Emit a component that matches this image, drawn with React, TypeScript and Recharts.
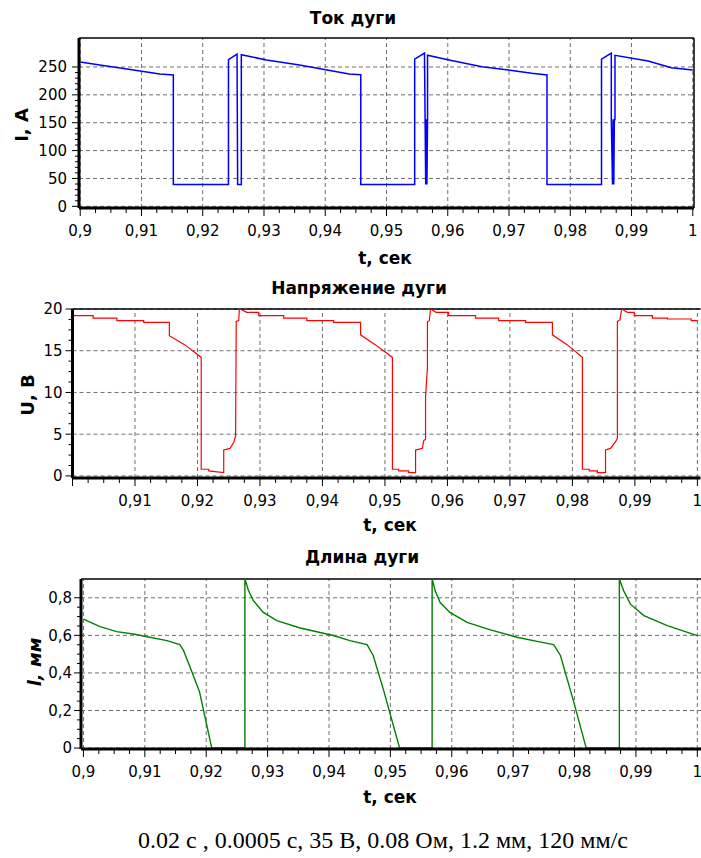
import React from 'react';
import { LineChart, Line, XAxis, YAxis, ReferenceLine } from 'recharts';

// Ток дуги, A
const currentT = [
  0.9, 0.9032, 0.9087, 0.913, 0.9152, 0.9152, 0.9242, 0.9242, 0.9256, 0.9257, 0.9263, 0.9263,
  0.9304, 0.9358, 0.9412, 0.9439, 0.9458, 0.9458, 0.9546, 0.9546, 0.9562, 0.9563, 0.9564, 0.9565,
  0.9566, 0.9567, 0.9567, 0.9602, 0.9656, 0.9699, 0.9737, 0.9762, 0.9762, 0.9851, 0.9851, 0.9867,
  0.9867, 0.9869, 0.987, 0.9871, 0.9872, 0.9873, 0.9873, 0.9927, 0.9965, 1.0,
];
const currentI = [
  259, 253.6, 244.6, 237.4, 235.6, 39, 39, 263, 273, 39, 39, 272,
  262.6, 253.6, 242.8, 237.4, 236, 39, 39, 264, 275, 156, 39, 156,
  39, 156, 271, 262.6, 250.6, 244.6, 238.6, 235.6, 39, 39, 264, 275,
  156, 39, 156, 39, 156, 156, 271, 260.8, 248.8, 244.6,
];

// Напряжение дуги, В
const voltageT = [
  0.9, 0.9003, 0.9033, 0.9033, 0.9071, 0.9071, 0.9114, 0.9114, 0.9155, 0.9155, 0.918, 0.9206,
  0.9206, 0.9218, 0.9218, 0.9242, 0.9242, 0.9252, 0.9258, 0.9261, 0.9262, 0.9266, 0.9267, 0.9268,
  0.9279, 0.9298, 0.9298, 0.9338, 0.9338, 0.9375, 0.9375, 0.9418, 0.9418, 0.9461, 0.9461, 0.9485,
  0.9512, 0.9512, 0.9522, 0.9522, 0.9538, 0.9538, 0.9549, 0.9549, 0.956, 0.9562, 0.9565, 0.9565,
  0.9568, 0.9568, 0.9571, 0.9573, 0.9582, 0.9602, 0.9602, 0.9645, 0.9645, 0.9682, 0.9682, 0.9725,
  0.9725, 0.9768, 0.9768, 0.9792, 0.9816, 0.9816, 0.9827, 0.9827, 0.984, 0.984, 0.9853, 0.9853,
  0.9861, 0.9869, 0.9872, 0.9872, 0.9876, 0.9879, 0.9888, 0.9899, 0.9899, 0.9928, 0.9928, 0.9952,
  0.9952, 0.999, 0.999, 1.0,
];
const voltageU = [
  19.4, 19.2, 19.2, 18.9, 18.9, 18.6, 18.6, 18.4, 18.4, 16.8, 15.7, 14.2,
  0.8, 0.8, 0.6, 0.4, 3.1, 3.3, 4.0, 4.8, 18.5, 18.6, 19.9, 20,
  19.6, 19.6, 19.2, 19.2, 18.9, 18.9, 18.6, 18.6, 18.4, 18.4, 16.9, 15.7,
  14.2, 0.8, 0.8, 0.6, 0.6, 0.4, 0.4, 3.1, 3.3, 4.2, 4.4, 9.5,
  13.0, 18.5, 18.6, 20, 19.6, 19.6, 19.2, 19.2, 18.9, 18.9, 18.6, 18.6,
  18.4, 18.4, 16.9, 15.7, 14.2, 0.8, 0.8, 0.6, 0.6, 0.4, 0.4, 3.1,
  3.3, 4.1, 4.5, 18.5, 18.7, 20, 19.6, 19.6, 19.2, 19.2, 18.9, 18.9,
  18.8, 18.8, 18.6, 18.6,
];

// Длина дуги, мм
const lengthT = [
  0.9, 0.9027, 0.9054, 0.9081, 0.9108, 0.9136, 0.9157, 0.9163, 0.9175, 0.9189, 0.9209, 0.9263,
  0.9263, 0.9269, 0.9277, 0.9293, 0.9315, 0.9353, 0.9407, 0.9434, 0.9462, 0.9472, 0.9489, 0.9515,
  0.9568, 0.9568, 0.9573, 0.9581, 0.9597, 0.9625, 0.9663, 0.9706, 0.9739, 0.9766, 0.9777, 0.9798,
  0.9819, 0.9873, 0.9873, 0.988, 0.9891, 0.9913, 0.9951, 1.0,
];
const lengthL = [
  0.687, 0.646, 0.62, 0.607, 0.59, 0.572, 0.551, 0.52, 0.42, 0.3, 0, 0,
  0.9, 0.837, 0.784, 0.722, 0.678, 0.639, 0.599, 0.572, 0.551, 0.493, 0.307, 0,
  0, 0.9, 0.837, 0.775, 0.722, 0.669, 0.629, 0.59, 0.568, 0.551, 0.493, 0.254,
  0, 0, 0.9, 0.837, 0.766, 0.705, 0.652, 0.599,
];

const timeTicks = [0.9, 0.91, 0.92, 0.93, 0.94, 0.95, 0.96, 0.97, 0.98, 0.99, 1];
const voltageTimeTicks = [0.91, 0.92, 0.93, 0.94, 0.95, 0.96, 0.97, 0.98, 0.99, 1];
const currentTicks = [0, 50, 100, 150, 200, 250];
const voltageTicks = [0, 5, 10, 15, 20];
const lengthTicks = [0, 0.2, 0.4, 0.6, 0.8];

const caption = '0.02 с , 0.0005 с, 35 В, 0.08 Ом, 1.2 мм, 120 мм/с';

const FONT = '"DejaVu Sans", sans-serif';
const GRID = '#6e6e6e';

const toRows = (t: number[], v: number[]) => t.map((x, i) => ({ t: x, v: v[i] }));
const fmt = (v: number) => String(v).replace('.', ',');

// minor ticks between neighbouring major ticks
const withMinor = (major: number[], parts: number) => {
  const out: number[] = [];
  major.forEach((m, i) => {
    out.push(m);
    if (i < major.length - 1) {
      const step = (major[i + 1] - m) / parts;
      for (let k = 1; k < parts; k++) out.push(m + step * k);
    }
  });
  return out;
};

const makeXTick = (labels: number[]) => (props: any) => {
  const { x, y, payload } = props;
  const major = timeTicks.includes(payload.value);
  const showLabel = labels.includes(payload.value);
  return (
    <g>
      <line x1={x} x2={x} y1={y} y2={y + (major ? 8 : 5)} stroke="#000" strokeWidth={1} />
      {showLabel && (
        <text x={x} y={y + 17} dy="0.71em" textAnchor="middle" fontFamily={FONT} fontSize={15} fill="#000">
          {fmt(payload.value)}
        </text>
      )}
    </g>
  );
};

const makeYTick = (labels: number[], gap: number) => (props: any) => {
  const { x, y, payload } = props;
  const major = labels.includes(payload.value);
  return (
    <g>
      <line x1={x - (major ? 7 : 4)} x2={x} y1={y} y2={y} stroke="#000" strokeWidth={1} />
      {major && (
        <text x={x - gap} y={y} dy="0.36em" textAnchor="end" fontFamily={FONT} fontSize={15} fill="#000">
          {fmt(payload.value)}
        </text>
      )}
    </g>
  );
};

const Title = ({ x, y, text }: { x: number; y: number; text: string }) => (
  <div
    style={{
      position: 'absolute', left: x, top: y, transform: 'translate(-50%, -50%)',
      fontFamily: FONT, fontWeight: 'bold', fontSize: 17, whiteSpace: 'nowrap',
    }}
  >
    {text}
  </div>
);

const SideLabel = ({ x, y, text, italic }: { x: number; y: number; text: string; italic?: boolean }) => (
  <div
    style={{
      position: 'absolute', left: x, top: y, transform: 'translate(-50%, -50%) rotate(-90deg)',
      fontFamily: FONT, fontWeight: 'bold', fontSize: 18, whiteSpace: 'nowrap',
      fontStyle: italic ? 'italic' : 'normal',
    }}
  >
    {text}
  </div>
);

interface PanelProps {
  top: number;
  rows: { t: number; v: number }[];
  color: string;
  width: number;
  xDomain: [number, number];
  yDomain: [number, number];
  yMajor: number[];
  yParts: number;
  xLabels: number[];
  axisWidth: number;
  marginTop: number;
  marginRight: number;
  axisHeight: number;
  labelGap: number;
  rightFrame: boolean;
}

const Panel = (p: PanelProps) => (
  <div style={{ position: 'absolute', left: 0, top: p.top }}>
    <LineChart
      width={701}
      height={270}
      data={p.rows}
      margin={{ top: p.marginTop, right: p.marginRight, left: 0, bottom: 0 }}
    >
      <XAxis
        dataKey="t"
        type="number"
        domain={p.xDomain}
        allowDataOverflow
        ticks={withMinor(timeTicks, 4)}
        interval={0}
        tickSize={0}
        tickMargin={0}
        tickLine={false}
        tick={makeXTick(p.xLabels)}
        axisLine={{ stroke: '#000', strokeWidth: 3 }}
        height={p.axisHeight}
      />
      <YAxis
        type="number"
        domain={p.yDomain}
        allowDataOverflow
        ticks={withMinor(p.yMajor, p.yParts)}
        interval={0}
        tickSize={0}
        tickMargin={0}
        tickLine={false}
        tick={makeYTick(p.yMajor, p.labelGap)}
        axisLine={{ stroke: '#000', strokeWidth: 3 }}
        width={p.axisWidth}
      />
      {timeTicks.map((v) => (
        <ReferenceLine key={'x' + v} x={v} stroke={GRID} strokeDasharray="4 3" />
      ))}
      {p.yMajor.map((v) => (
        <ReferenceLine key={'y' + v} y={v} stroke={GRID} strokeDasharray="4 3" />
      ))}
      <ReferenceLine y={p.yDomain[1]} stroke="#000" strokeWidth={1.5} />
      {p.rightFrame && <ReferenceLine x={p.xDomain[1]} stroke="#000" strokeWidth={1.5} />}
      <Line
        dataKey="v"
        type="linear"
        stroke={p.color}
        strokeWidth={p.width}
        dot={false}
        isAnimationActive={false}
      />
    </LineChart>
  </div>
);

export default function App() {
  return (
    <div
      style={{
        position: 'absolute', left: 0, top: 0, width: 701, height: 858,
        background: '#fff', overflow: 'hidden',
      }}
    >
      <Panel
        top={0}
        rows={toRows(currentT, currentI)}
        color="#0000ff"
        width={1.5}
        xDomain={[0.8998, 1.0002]}
        yDomain={[-3, 302]}
        yMajor={currentTicks}
        yParts={5}
        xLabels={timeTicks}
        axisWidth={79}
        marginTop={38}
        marginRight={7}
        axisHeight={62}
        labelGap={12}
        rightFrame
      />
      <Panel
        top={270}
        rows={toRows(voltageT, voltageU)}
        color="#ff0000"
        width={1.2}
        xDomain={[0.9, 1.0005]}
        yDomain={[-0.25, 20]}
        yMajor={voltageTicks}
        yParts={4}
        xLabels={voltageTimeTicks}
        axisWidth={72.5}
        marginTop={39}
        marginRight={0.5}
        axisHeight={62}
        labelGap={10}
        rightFrame={false}
      />
      <Panel
        top={540}
        rows={toRows(lengthT, lengthL)}
        color="#008000"
        width={1.4}
        xDomain={[0.8996, 1.0006]}
        yDomain={[-0.005, 0.9]}
        yMajor={lengthTicks}
        yParts={4}
        xLabels={timeTicks}
        axisWidth={81}
        marginTop={39}
        marginRight={0}
        axisHeight={61}
        labelGap={9}
        rightFrame={false}
      />

      <Title x={353} y={18} text="Ток дуги" />
      <Title x={359} y={288} text="Напряжение дуги" />
      <Title x={362} y={557} text="Длина дуги" />

      <SideLabel x={21} y={125} text="I, А" />
      <SideLabel x={27} y={395} text="U, В" />
      <SideLabel x={34} y={662} text="l, мм" italic />

      <Title x={385} y={258} text="t, сек" />
      <Title x={390} y={525} text="t, сек" />
      <Title x={390} y={797} text="t, сек" />

      <div
        style={{
          position: 'absolute', left: 383, top: 840, transform: 'translate(-50%, -50%)',
          fontFamily: '"Liberation Serif", serif', fontSize: 24, whiteSpace: 'nowrap', color: '#000',
        }}
      >
        {caption}
      </div>
    </div>
  );
}
